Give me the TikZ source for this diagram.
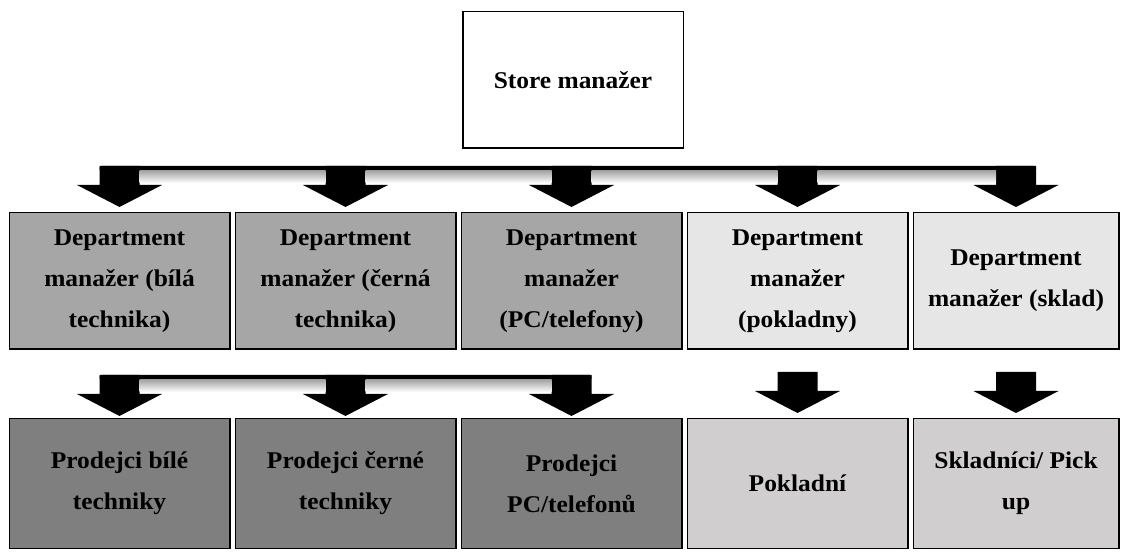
\documentclass[tikz,border=0pt]{standalone}
\usepackage{fontspec}
\setmainfont[FakeStretch=1.06]{Liberation Serif}
\usetikzlibrary{positioning}
\definecolor{deptgray}{HTML}{A6A6A6}
\definecolor{deptlight}{HTML}{E7E6E6}
\definecolor{salegray}{HTML}{7F7F7F}
\definecolor{salelight}{HTML}{D0CECE}
\tikzset{
  orgbox/.style={draw=black,line width=1.5pt,minimum width=220.5pt,minimum height=136.5pt,
    align=center,inner sep=0pt,font=\bfseries\fontsize{24}{41}\selectfont},
  salebox/.style={orgbox,minimum height=129.5pt},
  blkarrow/.pic={\fill (0,0)--(42.5,22)--(20,22)--(20,41)coordinate(-tr)--(-20,41)coordinate(-tl)--(-20,22)--(-42.5,22)--cycle;}
}
\begin{document}
\begin{tikzpicture}[x=1pt,y=1pt,node distance=4pt]
\useasboundingbox (0,0) rectangle (1126,551);
\node[orgbox,fill=white] (sm) at (573,471) {Store manažer};
%department managers
\node[orgbox,fill=deptgray] (d1) at (119.5,270) {Department\\manažer (bílá\\technika)};
\node[orgbox,fill=deptgray,right=of d1] (d2) {Department\\manažer (černá\\technika)};
\node[orgbox,fill=deptgray,right=of d2] (d3) {Department\\manažer\\(PC/telefony)};
\node[orgbox,fill=deptlight,right=of d3] (d4) {Department\\manažer\\(pokladny)};
\node[orgbox,fill=deptlight,right=of d4,minimum width=205.5pt] (d5) {Department\\manažer (sklad)};
%staff
\node[salebox,fill=salegray,below=68pt of d1] (p1) {Prodejci bílé\\techniky};
\node[salebox,fill=salegray,right=of p1] (p2) {Prodejci černé\\techniky};
\node[salebox,fill=salegray,right=of p2] (p3) {Prodejci\\PC/telefonů};
\node[salebox,fill=salelight,right=of p3] (p4) {Pokladní};
\node[salebox,fill=salelight,right=of p4,minimum width=205.5pt] (p5) {Skladníci/ Pick\\up};
%arrows
\foreach \i in {1,...,5} \pic (u\i) at ([yshift=5pt]d\i.north) {blkarrow};
\fill[rounded corners=2pt] (u1-tl) rectangle ([yshift=-5pt]u5-tr);
\foreach \a/\b in {u1/u2,u2/u3,u3/u4,u4/u5}
  \shade[top color=black!35,bottom color=white] ([yshift=-5pt]\a-tr) rectangle ([yshift=-17pt]\b-tl);
%
\foreach \i in {1,2,3} \pic (v\i) at ([yshift=2pt]p\i.north) {blkarrow};
\fill[rounded corners=2pt] (v1-tl) rectangle ([yshift=-5pt]v3-tr);
\foreach \a/\b in {v1/v2,v2/v3}
  \shade[top color=black!35,bottom color=white] ([yshift=-5pt]\a-tr) rectangle ([yshift=-17pt]\b-tl);
\pic (v4) at ([yshift=5pt]p4.north) {blkarrow};
\pic (v5) at ([yshift=5pt]p5.north) {blkarrow};
\end{tikzpicture}
\end{document}
